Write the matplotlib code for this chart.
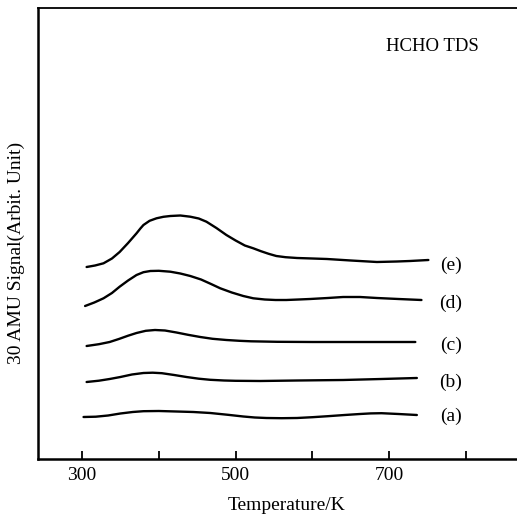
import matplotlib.pyplot as plt
from matplotlib.ticker import FixedLocator

plt.rcParams['font.family'] = ['Liberation Serif', 'DejaVu Serif']

# curves (temperature in K, signal in arbitrary units)
temp_a = [302, 318, 334, 350, 366, 380, 400, 423, 445, 467, 490, 510, 525, 540, 560, 580, 600, 620, 642, 662, 676, 690, 712, 736]
sig_a = [42, 42.3, 43.5, 45.5, 47, 47.8, 48, 47.5, 47, 46, 44.2, 42.5, 41.5, 41, 40.8, 41, 41.8, 42.8, 44, 45, 45.6, 45.8, 45, 44]

temp_b = [306, 322, 336, 350, 365, 380, 392, 404, 420, 436, 452, 467, 485, 500, 532, 580, 640, 690, 736]
sig_b = [77, 78.3, 80, 82, 84.5, 86, 86.3, 85.8, 84, 82, 80.3, 79.2, 78.5, 78.2, 78, 78.5, 79, 80, 81]

temp_c = [306, 322, 336, 348, 360, 371, 383, 395, 408, 423, 438, 454, 470, 488, 505, 520, 554, 600, 640, 690, 734]
sig_c = [113, 114.8, 117, 120, 123.3, 126, 128.2, 129, 128.5, 126.5, 124.2, 122, 120.2, 119, 118.2, 117.7, 117.2, 117, 117, 117, 117]

temp_d = [304, 316, 328, 339, 349, 360, 371, 380, 389, 400, 415, 428, 441, 455, 468, 480, 495, 510, 523, 538, 552, 566, 582, 597, 620, 640, 662, 684, 712, 742]
sig_d = [153, 156.5, 160.7, 166, 172.3, 178.5, 184, 186.8, 188, 188.2, 187.3, 185.5, 183, 179.5, 175, 170.7, 166.5, 163, 160.7, 159.5, 159, 159, 159.5, 160, 161, 162, 162, 161, 160, 159]

temp_e = [306, 317, 328, 339, 349, 360, 371, 376, 380, 388, 397, 406, 415, 428, 441, 452, 462, 475, 488, 500, 512, 523, 533, 543, 553, 565, 580, 600, 619, 650, 684, 710, 727, 751]
sig_e = [192, 193.5, 195.7, 200.5, 207, 216, 225.7, 230.5, 234, 238.2, 240.7, 242.2, 243, 243.5, 242.3, 240.5, 237.3, 231, 224, 218.5, 213.5, 210.7, 207.8, 205.2, 203, 201.8, 201, 200.5, 200, 198.5, 197, 197.5, 198, 199]

curve_labels = ['(a)', '(b)', '(c)', '(d)', '(e)']
label_temp = 780
label_sig = [43, 77, 114, 156, 194]

fig = plt.figure(figsize=(5.17, 5.20), dpi=100)
ax = fig.add_axes([38 / 517, 61 / 520, 1 - 38 / 517, 451 / 520])

for t, s in [(temp_a, sig_a), (temp_b, sig_b), (temp_c, sig_c), (temp_d, sig_d), (temp_e, sig_e)]:
    ax.plot(t, s, color='black', lw=1.7, solid_capstyle='round', solid_joinstyle='round')

for lab, y in zip(curve_labels, label_sig):
    ax.text(label_temp, y, lab, fontsize=14, ha='center', va='center')

ax.text(0.92, 0.915, 'HCHO TDS', transform=ax.transAxes, fontsize=13.5,
        ha='right', va='center')

ax.set_xlim(242.7, 866.4)
ax.set_ylim(0, 451)

ax.xaxis.set_major_locator(FixedLocator([300, 500, 700]))
ax.xaxis.set_minor_locator(FixedLocator([400, 600, 800]))
ax.tick_params(axis='x', which='both', direction='in', length=6, width=1.3, pad=6, labelsize=14)
ax.set_yticks([])

ax.spines['right'].set_visible(False)
ax.spines['left'].set_linewidth(1.8)
ax.spines['bottom'].set_linewidth(1.8)
ax.spines['top'].set_linewidth(1.3)

fig.text(287 / 517, 1 - 505 / 520, 'Temperature/K', fontsize=14, ha='center', va='center')
fig.text(16 / 517, 1 - 253 / 520, '30 AMU Signal(Arbit. Unit)', fontsize=14,
         ha='center', va='center', rotation=90)

fig.savefig('out.png', dpi=100)
